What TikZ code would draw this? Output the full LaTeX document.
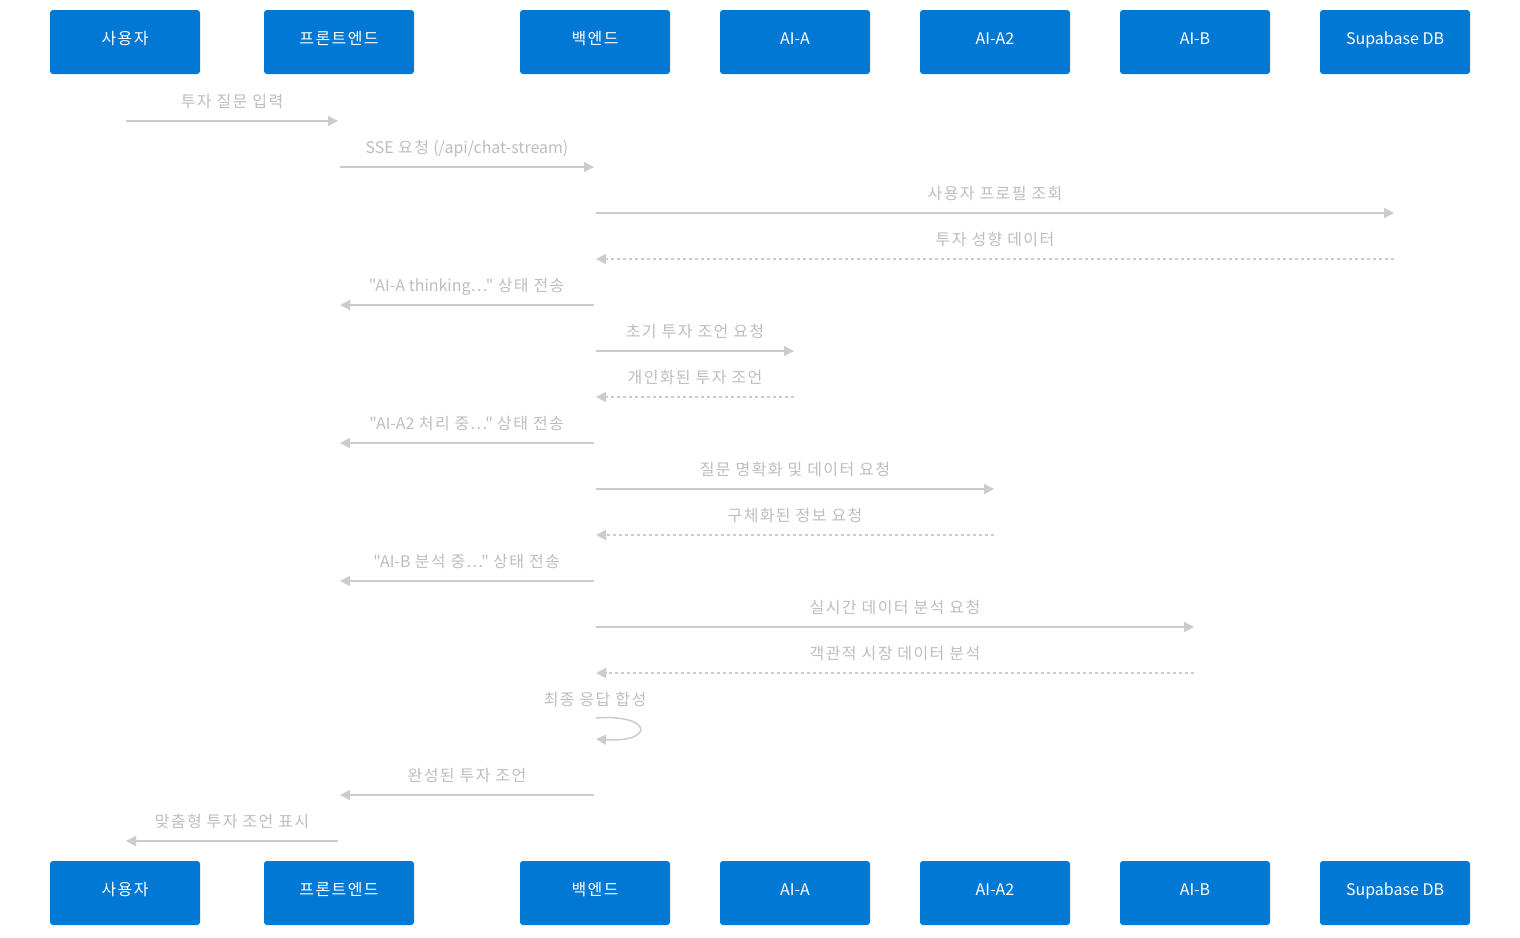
\documentclass[tikz,border=0pt]{standalone}
\usepackage{fontspec}
\setmainfont{Noto Sans CJK KR}[Ligatures=TeXOff]
\usetikzlibrary{arrows.meta,calc}
\definecolor{actorblue}{HTML}{0078D4}
\definecolor{msgline}{HTML}{CCCCCC}
\definecolor{msgtext}{HTML}{BEBEBE}
% widen Hangul syllables slightly (full-width look), centred
\newXeTeXintercharclass\hangulcls
\newcount\hgc
\hgc="AC00
\loop
  \XeTeXcharclass\hgc=\hangulcls
  \advance\hgc by 1
\ifnum\hgc<"D7A4 \repeat
\XeTeXinterchartoks\hangulcls 0={\kern0.7pt\relax}
\XeTeXinterchartoks 0\hangulcls={\kern0.7pt\relax}
\XeTeXinterchartoks\hangulcls\hangulcls={\kern1.4pt\relax}
\XeTeXinterchartoks\hangulcls 4095={\kern0.7pt\relax}
\XeTeXinterchartoks 4095\hangulcls={\kern0.7pt\relax}
\XeTeXinterchartokenstate=1
\begin{document}
\begin{tikzpicture}[x=1pt,y=-1pt,
  actor/.style={fill=actorblue, draw=none, rounded corners=3pt,
    minimum width=150pt, minimum height=64pt, text=white,
    font=\fontsize{16}{19}\selectfont, inner sep=0pt,
    text height=12pt, text depth=7pt},
  msg/.style={draw=msgline, line width=1.5pt, shorten <=1pt, shorten >=1pt,
    -{Triangle[length=10pt,width=10pt]}},
  reply/.style={msg, dash pattern=on 3pt off 3pt},
  lbl/.style={text=msgtext, font=\fontsize{16}{19}\selectfont, inner sep=0pt,
    text height=15pt, text depth=0pt}]
\useasboundingbox (0,0) rectangle (1520,937);
\fill[white] (0,0) rectangle (1520,937);

% participants (top)
\node[actor] (uT)  at (125,42)  {사용자};
\node[actor] (fT)  at (339,42)  {프론트엔드};
\node[actor] (bT)  at (595,42)  {백엔드};
\node[actor] (aT)  at (795,42)  {AI-A};
\node[actor] (a2T) at (995,42)  {AI-A2};
\node[actor] (bbT) at (1195,42) {AI-B};
\node[actor] (dbT) at (1395,42) {Supabase DB};
% participants (bottom)
\node[actor] (uB)  at (125,893)  {사용자};
\node[actor] (fB)  at (339,893)  {프론트엔드};
\node[actor] (bB)  at (595,893)  {백엔드};
\node[actor] (aB)  at (795,893)  {AI-A};
\node[actor] (a2B) at (995,893)  {AI-A2};
\node[actor] (bbB) at (1195,893) {AI-B};
\node[actor] (dbB) at (1395,893) {Supabase DB};

% lifeline anchors
\coordinate (lu)  at (uT.center);
\coordinate (lf)  at (fT.center);
\coordinate (lb)  at (bT.center);
\coordinate (la)  at (aT.center);
\coordinate (la2) at (a2T.center);
\coordinate (lbb) at (bbT.center);
\coordinate (ldb) at (dbT.center);

% messages
\draw[msg] (lu |- 0,121) -- (lf |- 0,121);
\node[lbl] (m1) at ($(lu |- 0,100)!0.5!(lf |- 0,100)$) {투자 질문 입력};

\draw[msg] (lf |- 0,167) -- (lb |- 0,167);
\node[lbl] (m2) at ($(lf |- 0,146)!0.5!(lb |- 0,146)$) {SSE 요청 (/api/chat-stream)};

\draw[msg] (lb |- 0,213) -- (ldb |- 0,213);
\node[lbl] (m3) at ($(lb |- 0,192)!0.5!(ldb |- 0,192)$) {사용자 프로필 조회};

\draw[reply] (ldb |- 0,259) -- (lb |- 0,259);
\node[lbl] (m4) at ($(lb |- 0,238)!0.5!(ldb |- 0,238)$) {투자 성향 데이터};

\draw[msg] (lb |- 0,305) -- (lf |- 0,305);
\node[lbl] (m5) at ($(lf |- 0,284)!0.5!(lb |- 0,284)$) {"AI-A thinking…" 상태 전송};

\draw[msg] (lb |- 0,351) -- (la |- 0,351);
\node[lbl] (m6) at ($(lb |- 0,330)!0.5!(la |- 0,330)$) {초기 투자 조언 요청};

\draw[reply] (la |- 0,397) -- (lb |- 0,397);
\node[lbl] (m7) at ($(lb |- 0,376)!0.5!(la |- 0,376)$) {개인화된 투자 조언};

\draw[msg] (lb |- 0,443) -- (lf |- 0,443);
\node[lbl] (m8) at ($(lf |- 0,422)!0.5!(lb |- 0,422)$) {"AI-A2 처리 중…" 상태 전송};

\draw[msg] (lb |- 0,489) -- (la2 |- 0,489);
\node[lbl] (m9) at ($(lb |- 0,468)!0.5!(la2 |- 0,468)$) {질문 명확화 및 데이터 요청};

\draw[reply] (la2 |- 0,535) -- (lb |- 0,535);
\node[lbl] (m10) at ($(lb |- 0,514)!0.5!(la2 |- 0,514)$) {구체화된 정보 요청};

\draw[msg] (lb |- 0,581) -- (lf |- 0,581);
\node[lbl] (m11) at ($(lf |- 0,560)!0.5!(lb |- 0,560)$) {"AI-B 분석 중…" 상태 전송};

\draw[msg] (lb |- 0,627) -- (lbb |- 0,627);
\node[lbl] (m12) at ($(lb |- 0,606)!0.5!(lbb |- 0,606)$) {실시간 데이터 분석 요청};

\draw[reply] (lbb |- 0,673) -- (lb |- 0,673);
\node[lbl] (m13) at ($(lb |- 0,652)!0.5!(lbb |- 0,652)$) {객관적 시장 데이터 분석};

% self message
\coordinate (s1) at (lb |- 0,718);
\coordinate (s2) at (lb |- 0,739);
\draw[msg] (s1) .. controls +(59,-4) and +(59,4) .. (s2);
\node[lbl] (m14) at (lb |- 0,698) {최종 응답 합성};

\draw[msg] (lb |- 0,795) -- (lf |- 0,795);
\node[lbl] (m15) at ($(lf |- 0,774)!0.5!(lb |- 0,774)$) {완성된 투자 조언};

\draw[msg] (lf |- 0,841) -- (lu |- 0,841);
\node[lbl] (m16) at ($(lu |- 0,820)!0.5!(lf |- 0,820)$) {맞춤형 투자 조언 표시};
\end{tikzpicture}
\end{document}
